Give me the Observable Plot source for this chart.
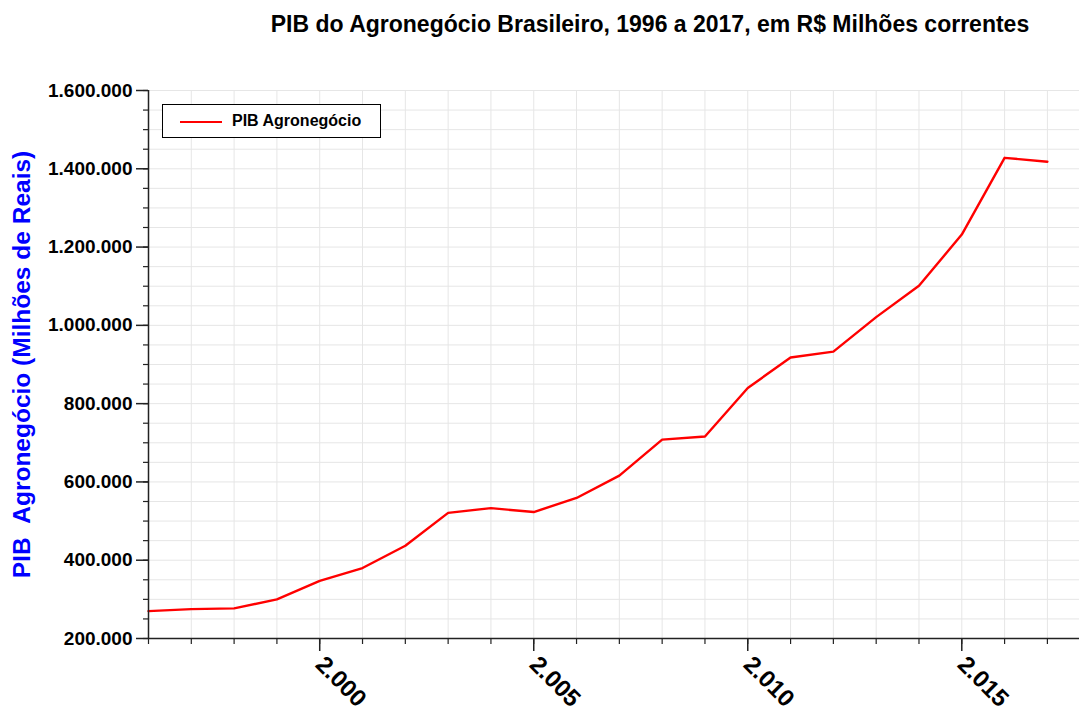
<!DOCTYPE html>
<html>
<head>
<meta charset="utf-8">
<script src="https://cdn.jsdelivr.net/npm/d3@7"></script>
<script src="https://cdn.jsdelivr.net/npm/@observablehq/plot@0.6"></script>
<style>
  html, body { margin: 0; padding: 0; background: #fff; }
  body { font-family: "Liberation Sans", Arial, Helvetica, sans-serif; width: 1079px; height: 713px; position: relative; overflow: hidden; }
  #title { height: 45px; width: 1079px; box-sizing: border-box; padding-left: 221px; text-align: center; font-weight: bold; font-size: 23px; line-height: 23px; padding-top: 13px; color: #000; white-space: nowrap; }
  #legend { position: absolute; left: 162px; top: 104px; width: 217px; height: 32px; border: 1px solid #000; background: #fff; }
  #legend .sw { position: absolute; left: 17px; top: 16px; width: 42px; height: 0; border-top: 2.4px solid #ff0000; }
  #legend .lb { position: absolute; left: 69px; top: 7px; font-weight: bold; font-size: 16px; line-height: 18px; color: #000; }
  svg { overflow: visible; }
</style>
</head>
<body>
<div id="title">PIB do Agronegócio Brasileiro, 1996 a 2017, em R$ Milhões correntes</div>
<div id="chart"></div>
<div id="legend"><div class="sw"></div><div class="lb">PIB Agronegócio</div></div>
<script>
const years = [1996, 1997, 1998, 1999, 2000, 2001, 2002, 2003, 2004, 2005, 2006,
               2007, 2008, 2009, 2010, 2011, 2012, 2013, 2014, 2015, 2016, 2017];
const pibAgro = [270000, 275000, 277000, 300000, 347000, 380000, 437000, 521000, 533000, 523000, 559000,
                 616000, 708000, 716000, 840000, 918000, 933000, 1021000, 1101000, 1232000, 1428000, 1418000];
const yMajorTicks = [200000, 400000, 600000, 800000, 1000000, 1200000, 1400000, 1600000];
const yMinorTicks = d3.range(200000, 1600001, 50000);
const xMajorTicks = [2000, 2005, 2010, 2015];
const xMinorTicks = years;
const seriesName = "PIB Agronegócio";
const yTitle = "PIB\u00A0\u00A0Agronegócio (Milhões de Reais)";

const ptBR = d3.formatLocale({decimal: ",", thousands: ".", grouping: [3], currency: ["R$", ""]});
const fmt = ptBR.format(",d");

const data = years.map((year, i) => ({year, value: pibAgro[i]}));

const font = "Liberation Sans, Arial, Helvetica, sans-serif";
const blank = () => "";

const chart = Plot.plot({
  width: 1079,
  height: 668,
  marginTop: 45,
  marginBottom: 75,
  marginLeft: 148,
  marginRight: 0,
  style: {fontFamily: font, background: "transparent", overflow: "visible"},
  x: {domain: [1996, 2017.75]},
  y: {domain: [200000, 1600000]},
  marks: [
    Plot.gridX(xMinorTicks, {stroke: "#e6e6e6", strokeOpacity: 1, strokeWidth: 1}),
    Plot.gridY(yMinorTicks, {stroke: "#e6e6e6", strokeOpacity: 1, strokeWidth: 1}),
    Plot.line(data, {x: "year", y: "value", stroke: "#ff0000", strokeWidth: 2.4}),
    Plot.ruleX([1996], {stroke: "#222", strokeWidth: 1.5}),
    Plot.ruleY([200000], {stroke: "#222", strokeWidth: 1.5}),
    Plot.axisY(yMinorTicks, {tickSize: 5, tickFormat: blank, stroke: "#222", strokeWidth: 1.2, label: null}),
    Plot.axisY(yMajorTicks, {tickSize: 12, tickPadding: 4, tickFormat: fmt, fontSize: 19, fontWeight: "bold", stroke: "#222", strokeWidth: 1.5, fill: "#000", label: null}),
    Plot.axisX(xMinorTicks, {tickSize: 6, tickFormat: blank, stroke: "#222", strokeWidth: 1.2, label: null}),
    Plot.axisX(xMajorTicks, {tickSize: 13, tickFormat: blank, stroke: "#222", strokeWidth: 1.5, label: null}),
    Plot.text(xMajorTicks, {x: d => d, frameAnchor: "bottom", dy: 22, text: d => fmt(d), rotate: 45, textAnchor: "start", lineAnchor: "middle", fontSize: 24, fontWeight: "bold", fill: "#000"}),
    Plot.text([yTitle], {frameAnchor: "left", dx: -126, rotate: -90, textAnchor: "middle", lineAnchor: "middle", fontSize: 24.5, fontWeight: "bold", fill: "#0000ff"})
  ]
});
document.getElementById("chart").appendChild(chart);
</script>
</body>
</html>
